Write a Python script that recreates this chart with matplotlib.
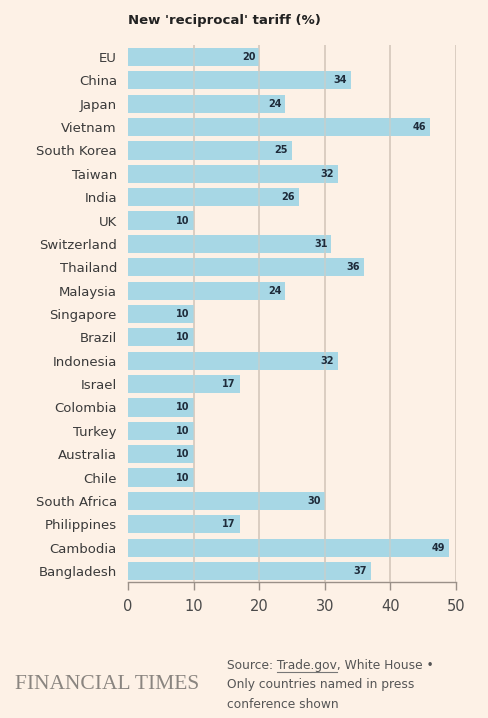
import matplotlib.pyplot as plt
from matplotlib.lines import Line2D

countries = ['EU', 'China', 'Japan', 'Vietnam', 'South Korea', 'Taiwan', 'India', 'UK',
             'Switzerland', 'Thailand', 'Malaysia', 'Singapore', 'Brazil', 'Indonesia',
             'Israel', 'Colombia', 'Turkey', 'Australia', 'Chile', 'South Africa',
             'Philippines', 'Cambodia', 'Bangladesh']
tariffs = [20, 34, 24, 46, 25, 32, 26, 10, 31, 36, 24, 10, 10, 32, 17, 10, 10, 10, 10,
           30, 17, 49, 37]
xticks = [0, 10, 20, 30, 40, 50]

bg = '#fdf1e6'
bar_col = '#a7d7e5'
grid_col = '#d8cbbf'
txt_col = '#3a3a3a'

fig = plt.figure(figsize=(4.89, 7.18), dpi=100, facecolor=bg)
ax = fig.add_axes([0.2618, 0.1894, 0.6707, 0.7479])
ax.set_facecolor(bg)

pos = list(range(len(countries)))
ax.barh(pos, tariffs, height=0.78, color=bar_col, zorder=2)
for p, v in zip(pos, tariffs):
    ax.text(v - 0.6, p, str(v), ha='right', va='center', fontsize=7,
            fontweight='bold', color='#1e2b3a', zorder=4)

# grid shows faintly through the bars
for x in xticks[1:]:
    ax.axvline(x, color=grid_col, lw=1.2, zorder=1)
    ax.axvline(x, color=grid_col, lw=1.2, alpha=0.55, zorder=3)

ax.set_xlim(0, 50)
ax.set_ylim(22.47, -0.51)
ax.set_xticks(xticks)
ax.set_yticks(pos)
ax.set_yticklabels(countries, fontsize=9.5, color=txt_col)
ax.tick_params(axis='y', length=0, pad=8)
ax.tick_params(axis='x', length=6, width=1, color='#9a9088', labelsize=10.5,
               labelcolor='#4a4a4a', pad=6)
for s in ['top', 'right', 'left']:
    ax.spines[s].set_visible(False)
ax.spines['bottom'].set_color('#9a9088')
ax.spines['bottom'].set_linewidth(1)

fig.text(0.2618, 0.972, "New 'reciprocal' tariff (%)", fontsize=9.5, fontweight='bold',
         color='#222222', va='center')

fig.text(0.03, 0.047, 'FINANCIAL TIMES', fontsize=15.5, family='Liberation Serif',
         color='#8a8580', va='center')

src_x, src_y = 0.465, 0.0735
src_fs = 8.8
lines = ['Source: Trade.gov, White House \u2022', 'Only countries named in press',
         'conference shown']
for i, ln in enumerate(lines):
    fig.text(src_x, src_y - i * 0.0275, ln, fontsize=src_fs, color='#555555', va='center')

# underline "Trade.gov"
fig.canvas.draw()
r = fig.canvas.get_renderer()
t1 = fig.text(src_x, src_y, 'Source: ', fontsize=src_fs, alpha=0)
t2 = fig.text(src_x, src_y, 'Source: Trade.gov', fontsize=src_fs, alpha=0)
x0 = t1.get_window_extent(r).x1 / fig.bbox.width
x1 = t2.get_window_extent(r).x1 / fig.bbox.width
uy = src_y - 0.0088
fig.add_artist(Line2D([x0, x1], [uy, uy], transform=fig.transFigure,
                      color='#777777', lw=0.8))

plt.savefig('out.png', dpi=100, facecolor=bg)
